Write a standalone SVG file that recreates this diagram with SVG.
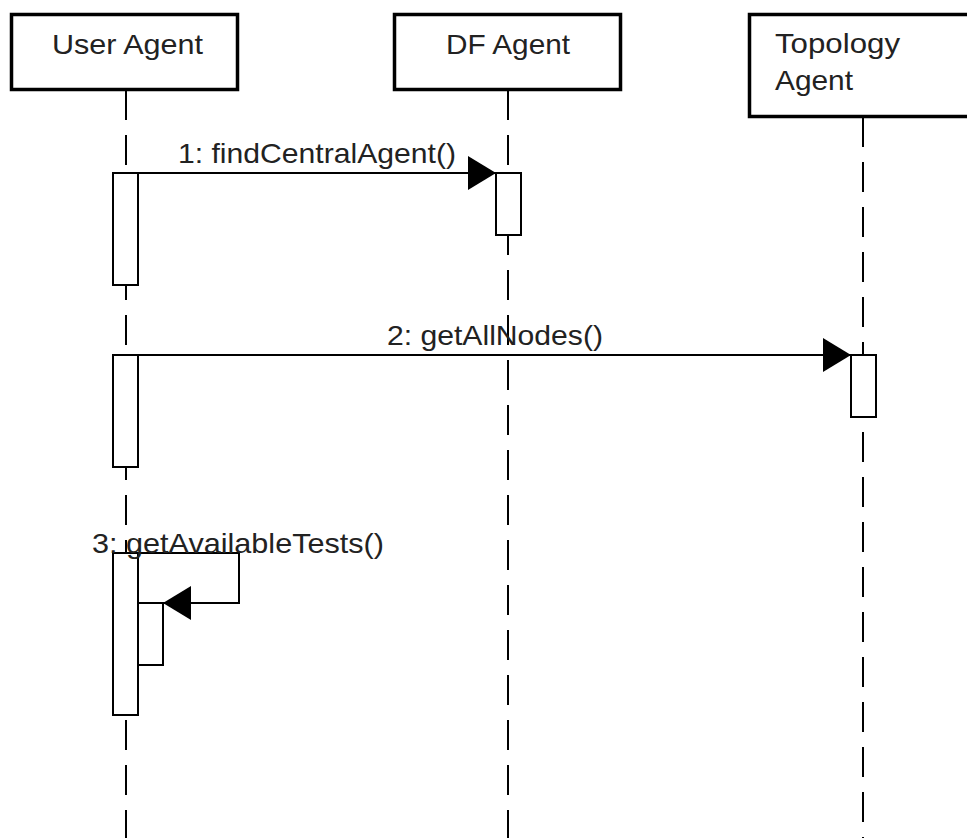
<svg xmlns="http://www.w3.org/2000/svg" width="967" height="838" viewBox="0 0 967 838">
<style>
.obj{fill:#fff;stroke:#000;stroke-width:3.5}
.life{stroke:#000;stroke-width:2;stroke-dasharray:30 15;fill:none}
.act{fill:#fff;stroke:#000;stroke-width:2}
.msg{stroke:#000;stroke-width:2;fill:none}
text{font-family:"Liberation Sans",Arial,sans-serif;font-size:28px;fill:#222}
</style>
<defs>
<marker id="arr" markerUnits="userSpaceOnUse" markerWidth="30" markerHeight="36" refX="28" refY="17" orient="auto">
<path d="M0,0 L28,17 L0,34 Z" fill="#000"/>
</marker>
</defs>
<rect width="967" height="838" fill="#fff"/>
<g id="lifelines">
<line class="life" x1="126" y1="90" x2="126" y2="838"/>
<line class="life" x1="508" y1="90" x2="508" y2="838"/>
<line class="life" x1="863" y1="117" x2="863" y2="838"/>
</g>
<g id="user-agent">
<rect class="obj" x="11.5" y="14.5" width="226" height="75"/>
<text x="52" y="54" textLength="151" lengthAdjust="spacingAndGlyphs">User Agent</text>
</g>
<g id="df-agent">
<rect class="obj" x="394.5" y="14.5" width="226" height="75"/>
<text x="446" y="54" textLength="124" lengthAdjust="spacingAndGlyphs">DF Agent</text>
</g>
<g id="topology-agent">
<rect class="obj" x="749.5" y="14.5" width="230" height="102"/>
<text x="775" y="53" textLength="125" lengthAdjust="spacingAndGlyphs">Topology</text>
<text x="775" y="90" textLength="78" lengthAdjust="spacingAndGlyphs">Agent</text>
</g>
<g id="activations">
<rect class="act" x="113" y="173" width="25" height="112"/>
<rect class="act" x="496" y="173" width="25" height="62"/>
<rect class="act" x="113" y="355" width="25" height="112"/>
<rect class="act" x="851" y="355" width="25" height="62"/>
<rect class="act" x="113" y="553" width="25" height="162"/>
<rect class="act" x="138" y="603" width="25" height="62"/>
</g>
<g id="connectors">
<line class="msg" x1="138" y1="173" x2="496" y2="173" marker-end="url(#arr)"/>
<text x="178" y="163" textLength="278" lengthAdjust="spacingAndGlyphs">1: findCentralAgent()</text>
<line class="msg" x1="138" y1="355" x2="851" y2="355" marker-end="url(#arr)"/>
<text x="387" y="345" textLength="216" lengthAdjust="spacingAndGlyphs">2: getAllNodes()</text>
<polyline class="msg" points="138,553 239,553 239,603 163,603" marker-end="url(#arr)"/>
<text x="92" y="553" textLength="292" lengthAdjust="spacingAndGlyphs">3: getAvailableTests()</text>
</g>
</svg>
